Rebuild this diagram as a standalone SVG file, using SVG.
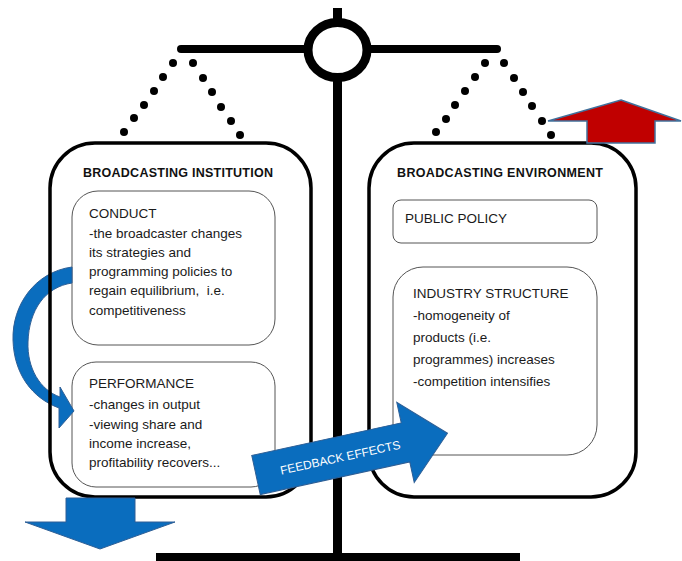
<svg xmlns="http://www.w3.org/2000/svg" width="682" height="561" viewBox="0 0 682 561">
<style>
.txt{font-family:"Liberation Sans",Arial,sans-serif;font-size:13.5px;fill:#1a1a1a;white-space:pre}
.ttl{font-family:"Liberation Sans",Arial,sans-serif;font-size:12.5px;font-weight:bold;fill:#111}
.outer{fill:none;stroke:#000;stroke-width:3.5}
.inner{fill:#fff;stroke:#555;stroke-width:1}
.dot{fill:#000}
.blue{fill:#0A6DBE;stroke:#2E5F96;stroke-width:1}
</style>
<rect x="0" y="0" width="682" height="561" fill="#fff"/>
<g id="scale">
<line x1="337.5" y1="8" x2="337.5" y2="556" stroke="#000" stroke-width="9"/>
<line x1="181" y1="49" x2="497" y2="49" stroke="#000" stroke-width="8" stroke-linecap="round"/>
<ellipse cx="337.5" cy="50" rx="29.5" ry="27.5" fill="#fff" stroke="#000" stroke-width="9"/>
<rect x="156" y="553" width="364" height="8" fill="#000"/>
<g class="dot">
<circle cx="173" cy="63" r="4"/><circle cx="163" cy="77" r="4"/><circle cx="154" cy="91" r="4"/><circle cx="144" cy="105" r="4"/><circle cx="134" cy="118" r="4"/><circle cx="124" cy="132" r="4"/>
<circle cx="193" cy="63" r="4"/><circle cx="203" cy="78" r="4"/><circle cx="212" cy="92" r="4"/><circle cx="221" cy="107" r="4"/><circle cx="231" cy="121" r="4"/><circle cx="240" cy="135" r="4"/>
<circle cx="485" cy="63" r="4"/><circle cx="475" cy="77" r="4"/><circle cx="465" cy="91" r="4"/><circle cx="455" cy="105" r="4"/><circle cx="446" cy="119" r="4"/><circle cx="436" cy="132" r="4"/>
<circle cx="504" cy="63" r="4"/><circle cx="514" cy="78" r="4"/><circle cx="523" cy="92" r="4"/><circle cx="532" cy="106" r="4"/><circle cx="542" cy="121" r="4"/><circle cx="551" cy="135" r="4"/>
</g>
</g>
<g id="conduct">
<rect class="inner" x="72" y="191" width="203" height="154" rx="26"/>
<text class="txt" x="89" y="218">CONDUCT</text>
<text class="txt" x="89" y="238">-the broadcaster changes</text>
<text class="txt" x="89" y="257">its strategies and</text>
<text class="txt" x="89" y="276">programming policies to</text>
<text class="txt" x="89" y="295" xml:space="preserve">regain equilibrium,  i.e.</text>
<text class="txt" x="89" y="315">competitiveness</text>
</g>
<g id="performance">
<rect class="inner" x="72" y="362" width="203" height="125" rx="24"/>
<text class="txt" x="89" y="388">PERFORMANCE</text>
<text class="txt" x="89" y="409">-changes in output</text>
<text class="txt" x="89" y="429">-viewing share and</text>
<text class="txt" x="89" y="448">income increase,</text>
<text class="txt" x="89" y="467">profitability recovers...</text>
</g>
<g id="public-policy">
<rect class="inner" x="393" y="200" width="204" height="43" rx="8"/>
<text class="txt" x="405" y="223">PUBLIC POLICY</text>
</g>
<g id="industry-structure">
<rect class="inner" x="393" y="267" width="204" height="188" rx="30"/>
<text class="txt" x="413" y="298">INDUSTRY STRUCTURE</text>
<text class="txt" x="413" y="320">-homogeneity of</text>
<text class="txt" x="413" y="342">products (i.e.</text>
<text class="txt" x="413" y="364">programmes) increases</text>
<text class="txt" x="413" y="386">-competition intensifies</text>
</g>
<g id="connectors">
<path class="blue" d="M72,267 C35,272 12,305 13,340 C14,374 32,398 59,408 L59,428 L74,411 L60,387 L60,397 C40,390 27,368 28,342 C29,310 45,287 72,283 Z"/>
</g>
<g id="broadcasting-institution">
<rect class="outer" x="50" y="143" width="261" height="354" rx="45"/>
<text class="ttl" x="83" y="177" textLength="190" lengthAdjust="spacing">BROADCASTING INSTITUTION</text>
</g>
<g id="broadcasting-environment">
<rect class="outer" x="369" y="143" width="267" height="354" rx="45"/>
<text class="ttl" x="397" y="177" textLength="206" lengthAdjust="spacing">BROADCASTING ENVIRONMENT</text>
</g>
<g id="arrow-down">
<polygon class="blue" points="66,498 135,498 135,522 175,522 100,549 25,522 66,522"/>
</g>
<g id="arrow-up">
<polygon points="621,100 681,121 655,121 655,143 587,143 587,121 548,121" fill="#C00000" stroke="#41719C" stroke-width="1.5"/>
</g>
<g id="feedback-effects" transform="translate(256,475) rotate(-12.3)">
<polygon class="blue" points="0,-20 153,-20 153,-41 196,0 153,41 153,20 0,20"/>
<text x="86" y="5" text-anchor="middle" font-family="Liberation Sans, Arial, sans-serif" font-size="12" fill="#fff">FEEDBACK EFFECTS</text>
</g>
</svg>
